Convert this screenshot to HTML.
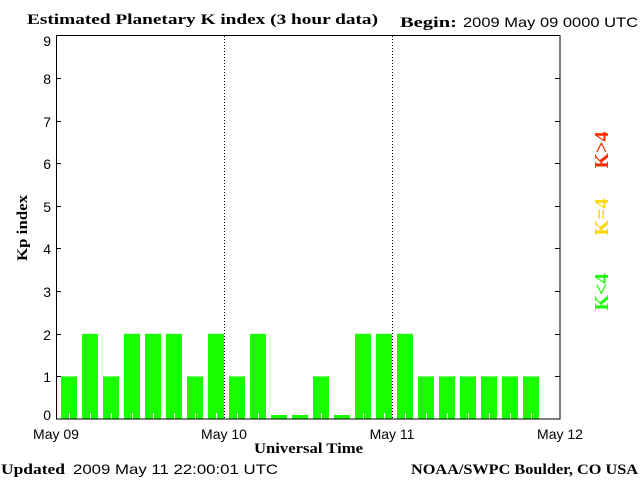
<!DOCTYPE html>
<html><head><style>body{margin:0;background:#fff}svg{display:block}</style></head><body>
<svg width="640" height="480" xmlns="http://www.w3.org/2000/svg">
<rect width="640" height="480" fill="#fff"/>
<g id="bars" fill="#1aff00">
<rect x="61" y="376.4" width="16" height="42.6"/>
<rect x="82" y="333.8" width="16" height="85.2"/>
<rect x="103" y="376.4" width="16" height="42.6"/>
<rect x="124" y="333.8" width="16" height="85.2"/>
<rect x="145" y="333.8" width="16" height="85.2"/>
<rect x="166" y="333.8" width="16" height="85.2"/>
<rect x="187" y="376.4" width="16" height="42.6"/>
<rect x="208" y="333.8" width="16" height="85.2"/>
<rect x="229" y="376.4" width="16" height="42.6"/>
<rect x="250" y="333.8" width="16" height="85.2"/>
<rect x="271" y="415" width="16" height="4"/>
<rect x="292" y="415" width="16" height="4"/>
<rect x="313" y="376.4" width="16" height="42.6"/>
<rect x="334" y="415" width="16" height="4"/>
<rect x="355" y="333.8" width="16" height="85.2"/>
<rect x="376" y="333.8" width="16" height="85.2"/>
<rect x="397" y="333.8" width="16" height="85.2"/>
<rect x="418" y="376.4" width="16" height="42.6"/>
<rect x="439" y="376.4" width="16" height="42.6"/>
<rect x="460" y="376.4" width="16" height="42.6"/>
<rect x="481" y="376.4" width="16" height="42.6"/>
<rect x="502" y="376.4" width="16" height="42.6"/>
<rect x="523" y="376.4" width="16" height="42.6"/>
</g>
<g stroke="#fff" stroke-width="1">
<path d="M69.5 413v6M90.5 413v6M111.5 413v6M132.5 413v6M153.5 413v6M174.5 413v6M195.5 413v6M216.5 413v6M237.5 413v6M258.5 413v6M321.5 413v6M363.5 413v6M384.5 413v6M405.5 413v6M426.5 413v6M447.5 413v6M468.5 413v6M489.5 413v6M510.5 413v6M531.5 413v6"/>
</g>
<g stroke="#000" stroke-width="1" stroke-dasharray="1,2">
<path d="M224.5 36v383M392.5 36v383"/>
</g>
<g stroke="#000" stroke-width="1" fill="none">
<rect x="56.5" y="35.5" width="503.5" height="383.5"/>
<path d="M57 78.5h4M57 121.5h4M57 163.5h4M57 206.5h4M57 248.5h4M57 291.5h4M57 334.5h4M57 376.5h4"/>
<path d="M555 78.5h5M555 121.5h5M555 163.5h5M555 206.5h5M555 248.5h5M555 291.5h5M555 334.5h5M555 376.5h5"/>
</g>
<g font-family="Liberation Sans, sans-serif" font-size="14" fill="#000" text-anchor="end">
<text x="51" y="46">9</text><text x="51" y="84">8</text><text x="51" y="127">7</text><text x="51" y="169">6</text><text x="51" y="212">5</text><text x="51" y="254">4</text><text x="51" y="297">3</text><text x="51" y="340">2</text><text x="51" y="382">1</text><text x="51" y="420">0</text>
</g>
<g font-family="Liberation Sans, sans-serif" font-size="14" fill="#000" text-anchor="middle">
<text x="56" y="439">May 09</text><text x="224" y="439">May 10</text><text x="392" y="439">May 11</text><text x="560" y="439">May 12</text>
</g>
<g font-family="Liberation Serif, serif" font-weight="bold" font-size="15" fill="#000">
<text x="27" y="24" textLength="351" lengthAdjust="spacingAndGlyphs">Estimated Planetary K index (3 hour data)</text>
<text x="400" y="27" textLength="57" lengthAdjust="spacingAndGlyphs">Begin:</text>
<text x="254" y="453" textLength="109" lengthAdjust="spacingAndGlyphs">Universal Time</text>
<text x="1" y="474" textLength="64" lengthAdjust="spacingAndGlyphs">Updated</text>
<text x="411" y="474" textLength="227" lengthAdjust="spacingAndGlyphs">NOAA/SWPC Boulder, CO USA</text>
<text transform="translate(27,228) rotate(-90)" text-anchor="middle" textLength="66" lengthAdjust="spacingAndGlyphs">Kp index</text>
</g>
<g font-family="Liberation Sans, sans-serif" font-size="14" fill="#000">
<text x="463" y="27" textLength="175" lengthAdjust="spacingAndGlyphs">2009 May 09 0000 UTC</text>
<text x="73" y="474" textLength="205" lengthAdjust="spacingAndGlyphs">2009 May 11 22:00:01 UTC</text>
</g>
<g font-family="Liberation Serif, serif" font-weight="bold" font-size="20">
<text transform="translate(608,150) rotate(-90)" text-anchor="middle" fill="#ff2a00">K&gt;4</text>
<text transform="translate(608,217) rotate(-90)" text-anchor="middle" fill="#ffd700">K=4</text>
<text transform="translate(608,292) rotate(-90)" text-anchor="middle" fill="#1aff00">K&lt;4</text>
</g>
</svg>
</body></html>
